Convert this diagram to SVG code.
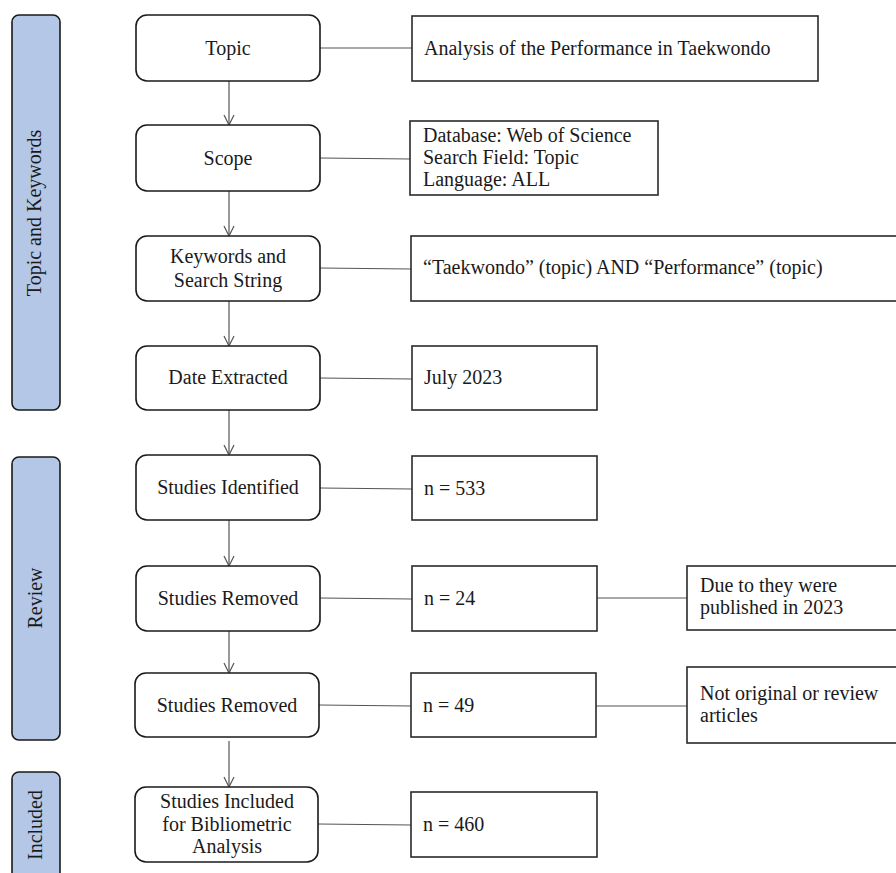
<svg xmlns="http://www.w3.org/2000/svg" width="896" height="873" viewBox="0 0 896 873">
<defs>
<style>
text{font-family:"Liberation Serif","Times New Roman",serif;font-size:20px;fill:#1a1a1a}
.c{text-anchor:middle}
.bar{fill:#b4c7e7;stroke:#1a1a1a;stroke-width:1.6}
.rb{fill:#fff;stroke:#1a1a1a;stroke-width:1.6}
.sb{fill:#fff;stroke:#2a2a2a;stroke-width:1.6}
.ln{stroke:#555;stroke-width:1.2;fill:none}
.ar{stroke:#555;stroke-width:1.2;fill:none;marker-end:url(#ah)}
</style>
<marker id="ah" viewBox="0 0 12 12" refX="11" refY="6" markerWidth="12" markerHeight="12" markerUnits="userSpaceOnUse" orient="auto">
<path d="M1,1 L11,6 L1,11" fill="none" stroke="#555" stroke-width="1.2"/>
</marker>
</defs>
<rect width="896" height="873" fill="#fff"/>

<g id="bar-topic"><rect class="bar" x="12" y="15" width="48" height="395" rx="7"/><text class="c" transform="translate(41,213) rotate(-90)">Topic and Keywords</text></g>
<g id="bar-review"><rect class="bar" x="12" y="457" width="48" height="283" rx="7"/><text class="c" transform="translate(42,598) rotate(-90)">Review</text></g>
<g id="bar-included"><rect class="bar" x="12" y="772" width="48" height="120" rx="7"/><text class="c" transform="translate(42,825) rotate(-90)">Included</text></g>

<g id="connectors">
<line class="ar" x1="229" y1="81" x2="229" y2="125"/>
<line class="ar" x1="229" y1="191" x2="229" y2="236"/>
<line class="ar" x1="229" y1="301" x2="229" y2="346"/>
<line class="ar" x1="229" y1="410" x2="229" y2="455"/>
<line class="ar" x1="229" y1="520" x2="229" y2="566"/>
<line class="ar" x1="229" y1="631" x2="229" y2="673"/>
<line class="ar" x1="229" y1="741" x2="229" y2="787"/>
<line class="ln" x1="320" y1="48" x2="412" y2="48"/>
<line class="ln" x1="320" y1="158" x2="410" y2="159"/>
<line class="ln" x1="320" y1="268" x2="411" y2="269"/>
<line class="ln" x1="320" y1="378" x2="412" y2="379"/>
<line class="ln" x1="320" y1="488" x2="412" y2="489"/>
<line class="ln" x1="320" y1="598" x2="412" y2="599"/>
<line class="ln" x1="319" y1="705" x2="411" y2="706"/>
<line class="ln" x1="318" y1="824" x2="411" y2="825"/>
<line class="ln" x1="597" y1="598" x2="687" y2="598"/>
<line class="ln" x1="596" y1="706" x2="687" y2="706"/>
</g>

<g id="topic"><rect class="rb" x="136" y="15" width="184" height="66" rx="11"/><text class="c" x="228" y="55">Topic</text></g>
<g id="scope"><rect class="rb" x="136" y="125" width="184" height="66" rx="11"/><text class="c" x="228" y="165">Scope</text></g>
<g id="keywords"><rect class="rb" x="136" y="236" width="184" height="65" rx="11"/><text class="c" x="228" y="263">Keywords and</text><text class="c" x="228" y="287">Search String</text></g>
<g id="date"><rect class="rb" x="136" y="346" width="184" height="64" rx="11"/><text class="c" x="228" y="384">Date Extracted</text></g>
<g id="identified"><rect class="rb" x="136" y="455" width="184" height="65" rx="11"/><text class="c" x="228" y="494">Studies Identified</text></g>
<g id="removed1"><rect class="rb" x="136" y="566" width="184" height="65" rx="11"/><text class="c" x="228" y="605">Studies Removed</text></g>
<g id="removed2"><rect class="rb" x="135" y="673" width="184" height="64" rx="11"/><text class="c" x="227" y="712">Studies Removed</text></g>
<g id="included"><rect class="rb" x="135" y="787" width="183" height="75" rx="11"/><text class="c" x="227" y="808">Studies Included</text><text class="c" x="227" y="831">for Bibliometric</text><text class="c" x="227" y="853">Analysis</text></g>

<g id="topic-detail"><rect class="sb" x="412" y="16" width="406" height="65"/><text x="424" y="55">Analysis of the Performance in Taekwondo</text></g>
<g id="scope-detail"><rect class="sb" x="410" y="121" width="248" height="74"/><text x="423" y="142">Database: Web of Science</text><text x="423" y="164">Search Field: Topic</text><text x="423" y="186">Language: ALL</text></g>
<g id="keywords-detail"><rect class="sb" x="411" y="236" width="495" height="65"/><text x="423" y="274">“Taekwondo” (topic) AND “Performance” (topic)</text></g>
<g id="date-detail"><rect class="sb" x="412" y="346" width="185" height="64"/><text x="424" y="384">July 2023</text></g>
<g id="n533"><rect class="sb" x="412" y="456" width="185" height="64"/><text x="424" y="495">n = 533</text></g>
<g id="n24"><rect class="sb" x="412" y="566" width="185" height="65"/><text x="424" y="605">n = 24</text></g>
<g id="n49"><rect class="sb" x="411" y="673" width="185" height="64"/><text x="423" y="712">n = 49</text></g>
<g id="n460"><rect class="sb" x="411" y="792" width="186" height="65"/><text x="423" y="831">n = 460</text></g>
<g id="reason1"><rect class="sb" x="687" y="566" width="220" height="64"/><text x="700" y="592">Due to they were</text><text x="700" y="614">published in 2023</text></g>
<g id="reason2"><rect class="sb" x="687" y="667" width="220" height="76"/><text x="700" y="700">Not original or review</text><text x="700" y="722">articles</text></g>
</svg>
